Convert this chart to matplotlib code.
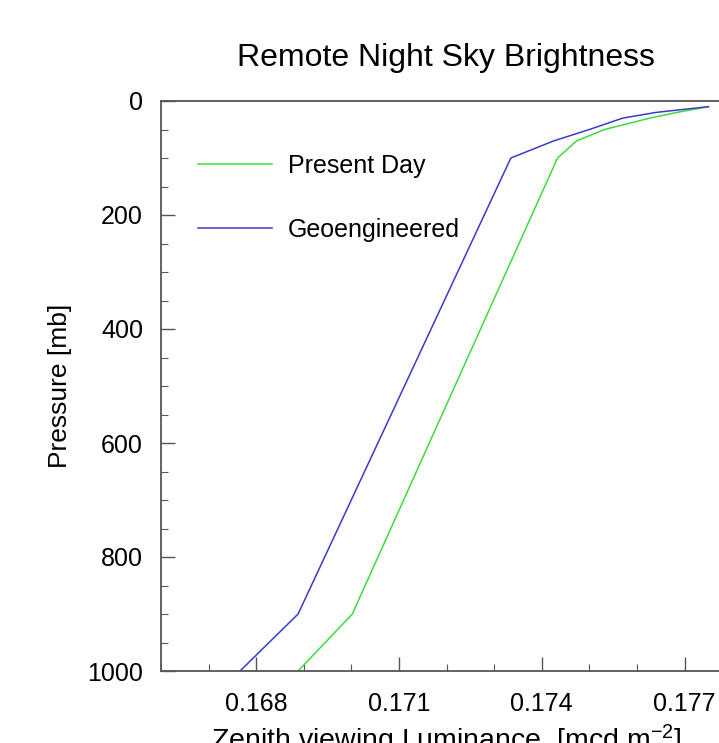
import matplotlib
matplotlib.use("Agg")
import matplotlib.pyplot as plt
from matplotlib.ticker import MultipleLocator, FormatStrFormatter

# Data
pressure_mb = [10, 20, 30, 50, 70, 100, 900, 1000]
present_day = [0.17750, 0.17684, 0.17627, 0.17532, 0.17473, 0.17433, 0.17002, 0.16888]
geoengineered = [0.17750, 0.17640, 0.17570, 0.17500, 0.17425, 0.17335, 0.16888, 0.16766]
series_names = ["Present Day", "Geoengineered"]
series_colors = ["#3ddc3d", "#3a3acc"]

plt.rcParams['font.family'] = ['Liberation Sans', 'DejaVu Sans']
plt.rcParams['mathtext.fontset'] = 'custom'
plt.rcParams['mathtext.rm'] = 'Liberation Sans'
plt.rcParams['mathtext.it'] = 'Liberation Sans:italic'
plt.rcParams['mathtext.bf'] = 'Liberation Sans:bold'

W, H = 719, 743
fig = plt.figure(figsize=(W / 100, H / 100), dpi=100)
left, top, bottom = 161, 101, 671
xmin, xmax = 0.166, 0.178
px_per_unit = 47.6 / 0.001
right = left + (xmax - xmin) * px_per_unit
ax = fig.add_axes([left / W, 1 - bottom / H, (right - left) / W, (bottom - top) / H])

for vals, name, col in zip([present_day, geoengineered], series_names, series_colors):
    ax.plot(vals, pressure_mb, color=col, lw=1.1, label=name)

ax.set_xlim(xmin, xmax)
ax.set_ylim(1000, 0)

ax.xaxis.set_major_locator(MultipleLocator(0.003))
ax.xaxis.set_minor_locator(MultipleLocator(0.001))
ax.xaxis.set_major_formatter(FormatStrFormatter('%.3f'))
ax.yaxis.set_major_locator(MultipleLocator(200))
ax.yaxis.set_minor_locator(MultipleLocator(50))

spine_col = '#555555'
for s in ax.spines.values():
    s.set_color(spine_col)
    s.set_linewidth(1.3)

ax.tick_params(which='both', direction='in', colors=spine_col, labelcolor='black',
               top=False, right=False)
ax.tick_params(which='major', length=10, width=1.0, labelsize=18)
ax.tick_params(axis='x', which='major', pad=15)
ax.tick_params(axis='y', which='major', pad=13)
ax.tick_params(which='minor', length=5, width=0.8)

ax.set_xlabel('Zenith viewing Luminance  [mcd m$^{\\mathrm{-2}}$]', fontsize=20.5, labelpad=5)
ax.set_ylabel('Pressure [mb]', fontsize=19, labelpad=11)

fig.text(446 / W, 1 - 66 / H, 'Remote Night Sky Brightness', fontsize=23,
         ha='center', va='baseline')

leg = ax.legend(loc='upper left', bbox_to_anchor=(198 / W, 1 - 154 / H),
                bbox_transform=fig.transFigure, frameon=False, fontsize=18,
                handlelength=2.95, handletextpad=0.63, labelspacing=1.6,
                borderpad=0, borderaxespad=0)

fig.savefig('out.png', dpi=100)
